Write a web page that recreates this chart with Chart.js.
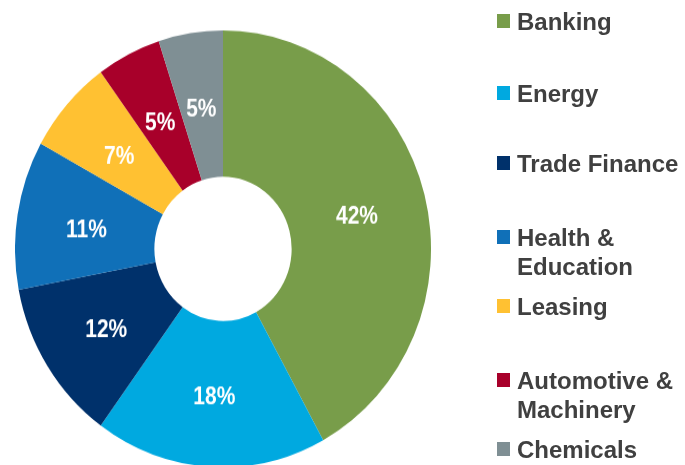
<!DOCTYPE html>
<html>
<head>
<meta charset="utf-8">
<script src="https://cdn.jsdelivr.net/npm/chart.js@4/dist/chart.umd.min.js"></script>
<style>
  html, body { margin: 0; padding: 0; background: #fff; }
  body { width: 685px; height: 465px; position: relative; overflow: hidden; font-family: "Liberation Sans", Arial, sans-serif; }
  #stretch { position: absolute; left: 0; top: 0; width: 685px; height: 443px; transform: scaleY(1.05); transform-origin: 0 0; }
  #chartBox { position: absolute; left: 15px; top: 29px; width: 416px; height: 416px; }
  #legend { position: absolute; left: 0; top: 0; width: 685px; height: 465px; }
  .item { position: absolute; left: 497px; font-weight: bold; font-size: 24px; line-height: 29px; color: #404040; }
  .item .sw { position: absolute; left: 0; top: 7px; width: 13px; height: 14px; }
  .item .tx { position: absolute; left: 20px; top: 0; white-space: nowrap; }
</style>
</head>
<body>
<div id="stretch"><div id="chartBox"><canvas id="c"></canvas></div></div>
<div id="legend"></div>
<script>
// ---- data ----
const categories = ["Banking", "Energy", "Trade Finance", "Health & Education", "Leasing", "Automotive & Machinery", "Chemicals"];
const legendLines = [["Banking"], ["Energy"], ["Trade Finance"], ["Health &", "Education"], ["Leasing"], ["Automotive &", "Machinery"], ["Chemicals"]];
const shares = [42, 18, 12, 11, 7, 5, 5];
const percentLabels = ["42%", "18%", "12%", "11%", "7%", "5%", "5%"];

// ---- styles / layout ----
const colors = ["#789D4A", "#00A9E0", "#00316B", "#1070B8", "#FFC132", "#A8002A", "#7F8F94"];
const legendTops = [7, 79, 149, 223, 292, 366, 435];

// legend (HTML)
const legend = document.getElementById('legend');
categories.forEach((cat, i) => {
  const d = document.createElement('div');
  d.className = 'item';
  d.style.top = legendTops[i] + 'px';
  const sw = document.createElement('div');
  sw.className = 'sw';
  sw.style.background = colors[i];
  const tx = document.createElement('div');
  tx.className = 'tx';
  tx.innerHTML = legendLines[i].map(s => s.replace(/&/g, '&amp;')).join('<br>');
  d.appendChild(sw);
  d.appendChild(tx);
  legend.appendChild(d);
});

const labelPlugin = {
  id: 'pctLabels',
  afterDatasetsDraw(chart) {
    const ctx = chart.ctx;
    const meta = chart.getDatasetMeta(0);
    meta.data.forEach((arc, i) => {
      const p = arc.tooltipPosition();
      ctx.save();
      ctx.fillStyle = '#ffffff';
      ctx.font = 'bold 21px "Liberation Sans", Arial, sans-serif';
      ctx.textAlign = 'center';
      ctx.textBaseline = 'middle';
      ctx.translate(p.x, p.y + 4);
      ctx.scale(1, 1.1);
      ctx.fillText(percentLabels[i], 0, 0);
      ctx.restore();
    });
  }
};

new Chart(document.getElementById('c'), {
  type: 'doughnut',
  data: {
    labels: categories,
    datasets: [{
      data: shares,
      backgroundColor: colors,
      borderWidth: 0,
      hoverOffset: 0,
      offset: 0
    }]
  },
  options: {
    responsive: true,
    maintainAspectRatio: false,
    animation: false,
    cutout: '33%',
    layout: { padding: 0 },
    plugins: { legend: { display: false }, tooltip: { enabled: false } },
    events: []
  },
  plugins: [labelPlugin]
});
</script>
</body>
</html>
